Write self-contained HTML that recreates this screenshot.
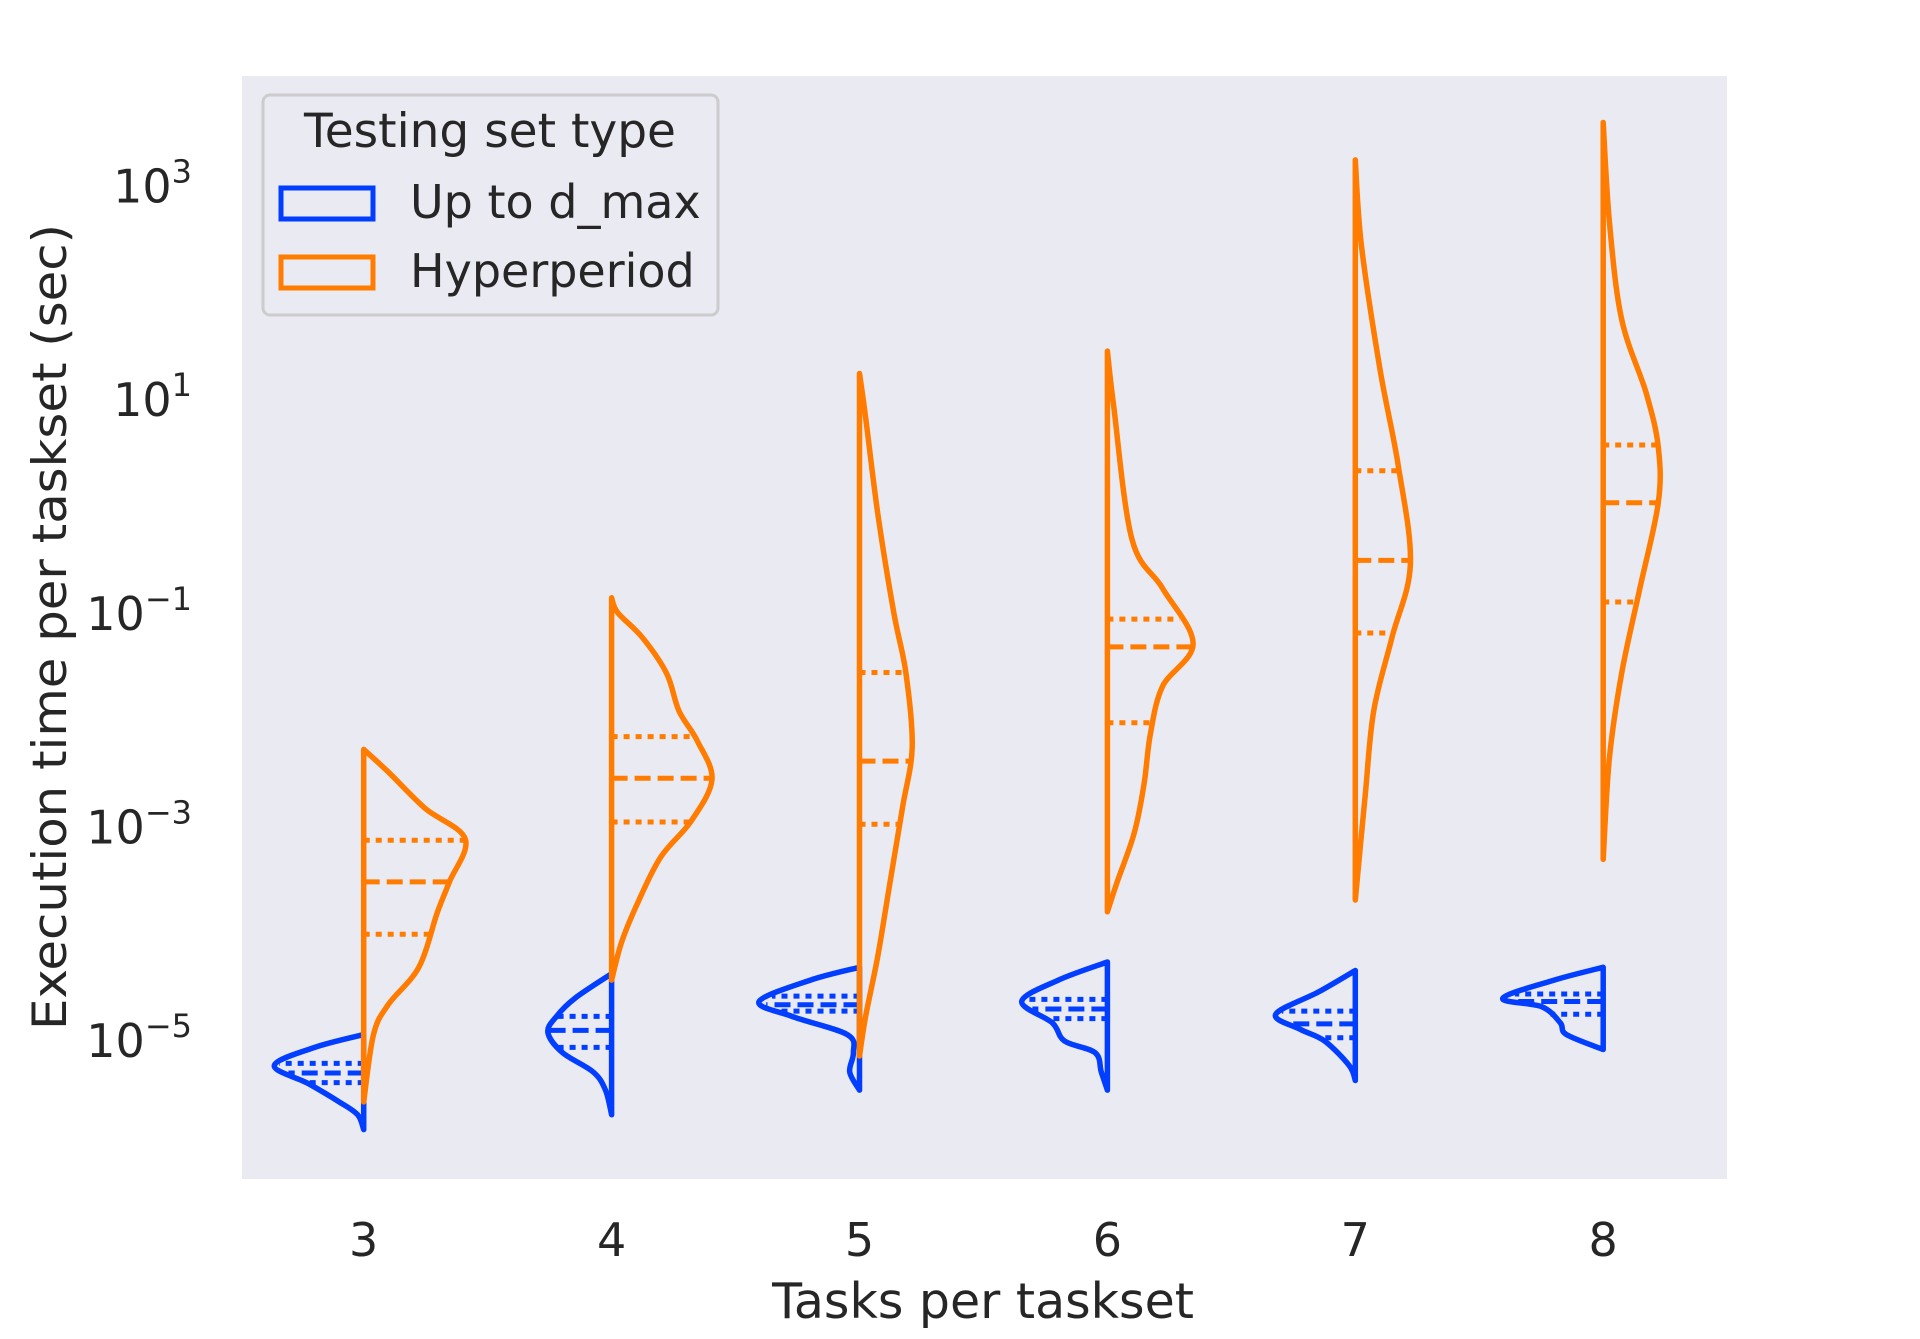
<!DOCTYPE html>
<html><head><meta charset="utf-8"><style>
html,body{margin:0;padding:0;background:#fff;}
svg{display:block;font-family:"DejaVu Sans","Liberation Sans",sans-serif;}
</style></head><body>
<svg id="chart" width="1920" height="1339" viewBox="0 0 1920 1339" xmlns="http://www.w3.org/2000/svg">
<rect x="242" y="76" width="1485" height="1103" fill="#eaeaf2"/>
<g id="violins"></g>
<g id="yticks"></g>
<g id="xticks"></g>
<text x="983" y="1318" font-size="49" text-anchor="middle" fill="#262626">Tasks per taskset</text>
<text transform="translate(66,627) rotate(-90)" font-size="47" text-anchor="middle" fill="#262626" textLength="806" lengthAdjust="spacingAndGlyphs">Execution time per taskset (sec)</text>
<g>
<rect x="263" y="95" width="455" height="220" rx="7" fill="#eaeaf2" stroke="#cccccc" stroke-width="3"/>
<text x="490" y="147" font-size="47" text-anchor="middle" fill="#262626">Testing set type</text>
<g>
<rect x="281" y="188" width="92" height="31" fill="none" stroke="#023eff" stroke-width="5"/>
<text x="410" y="218" font-size="46" fill="#262626">Up to d_max</text>
</g>
<g>
<rect x="281" y="257" width="92" height="31" fill="none" stroke="#ff7c00" stroke-width="5"/>
<text x="410" y="287" font-size="46" fill="#262626">Hyperperiod</text>
</g>
</g>
</svg>
<script>
const categories = ["3","4","5","6","7","8"];
const yTickExps = [-5,-3,-1,1,3];
// blue (Up to d_max) densities: [log10 value, relative density]
const blueLog = [
 [-4.94,-5.06,-5.23,-5.40,-5.57,-5.69,-5.83],
 [-4.37,-4.60,-4.77,-4.92,-5.11,-5.29,-5.46,-5.69],
 [-4.31,-4.43,-4.63,-4.77,-4.94,-5.11,-5.29,-5.46],
 [-4.26,-4.43,-4.63,-4.83,-5.00,-5.11,-5.29,-5.46],
 [-4.34,-4.54,-4.75,-4.89,-5.00,-5.23,-5.37],
 [-4.31,-4.43,-4.60,-4.68,-4.83,-4.94,-5.08]
];
const blueDens = [
 [0,0.40,0.73,0.45,0.20,0.05,0],
 [0,0.30,0.45,0.52,0.40,0.15,0.05,0],
 [0,0.40,0.82,0.55,0.10,0.05,0.08,0],
 [0,0.40,0.70,0.45,0.35,0.10,0.05,0],
 [0,0.30,0.65,0.45,0.25,0.05,0],
 [0,0.40,0.82,0.50,0.35,0.30,0]
];
const blueQuart = [[-5.21,-5.30,-5.39],[-4.77,-4.90,-5.06],[-4.58,-4.66,-4.72],[-4.61,-4.70,-4.79],[-4.72,-4.84,-4.97],[-4.56,-4.63,-4.75]];
const orangeLog = [
 [-2.27,-2.48,-2.82,-3.11,-3.51,-3.80,-4.31,-4.66,-4.94,-5.57],
 [-0.85,-0.99,-1.22,-1.56,-1.91,-2.19,-2.55,-2.94,-3.28,-3.74,-4.08,-4.43],
 [1.25,0.84,-0.07,-0.99,-1.56,-2.25,-2.82,-3.51,-4.20,-4.77,-5.14],
 [1.46,0.96,-0.30,-0.76,-1.28,-1.68,-2.13,-2.59,-3.05,-3.51,-3.79],
 [3.25,2.45,1.30,0.39,-0.53,-1.22,-1.91,-2.71,-3.68],
 [3.60,2.68,1.76,1.07,0.56,0.04,-0.76,-1.56,-2.36,-3.30]
];
const orangeDens = [
 [0,0.20,0.50,0.83,0.70,0.60,0.45,0.20,0.08,0],
 [0,0.05,0.25,0.45,0.55,0.70,0.82,0.65,0.40,0.20,0.08,0],
 [0,0.05,0.15,0.28,0.38,0.43,0.35,0.25,0.15,0.05,0],
 [0,0.05,0.20,0.45,0.70,0.45,0.35,0.30,0.22,0.08,0],
 [0,0.05,0.20,0.35,0.45,0.30,0.15,0.08,0],
 [0,0.05,0.15,0.35,0.45,0.45,0.30,0.15,0.05,0]
];
const orangeQuart = [[-3.12,-3.51,-4.00],[-2.15,-2.54,-2.95],[-1.55,-2.38,-2.97],[-1.05,-1.31,-2.02],[0.34,-0.50,-1.18],[0.58,0.04,-0.89]];

const NS="http://www.w3.org/2000/svg";
const catW=247.9, x0=363.7;
function xScale(i){return x0+i*catW;}
function yScale(l){return 1041-(l+5)*106.8;}
const halfPx = 0.494*catW;
function densAt(logs,dens,l){
  for(let k=0;k<logs.length-1;k++){
    const a=logs[k],b=logs[k+1];
    if((l<=a&&l>=b)||(l>=a&&l<=b)){const t=(l-a)/(b-a);return dens[k]+t*(dens[k+1]-dens[k]);}
  }
  return 0;
}
function smoothPath(pts){
  let d="M"+pts[0][0].toFixed(1)+","+pts[0][1].toFixed(1);
  for(let i=0;i<pts.length-1;i++){
    const p0=pts[Math.max(0,i-1)],p1=pts[i],p2=pts[i+1],p3=pts[Math.min(pts.length-1,i+2)];
    const c1=[p1[0]+(p2[0]-p0[0])/6,p1[1]+(p2[1]-p0[1])/6];
    const c2=[p2[0]-(p3[0]-p1[0])/6,p2[1]-(p3[1]-p1[1])/6];
    d+=" C"+c1[0].toFixed(1)+","+c1[1].toFixed(1)+" "+c2[0].toFixed(1)+","+c2[1].toFixed(1)+" "+p2[0].toFixed(1)+","+p2[1].toFixed(1);
  }
  return d;
}
const g=document.getElementById("violins");
function drawHalf(i,logs,dens,quart,side,color,nm){
  const cx=xScale(i);
  const pts=logs.map((l,k)=>[cx+side*dens[k]*halfPx,yScale(l)]);
  const d=smoothPath(pts)+" Z";
  const p=document.createElementNS(NS,"path");
  p.setAttribute("d",d);p.setAttribute("fill","none");p.setAttribute("stroke",color);
  p.setAttribute("stroke-width","5.5");p.setAttribute("stroke-linejoin","round");p.setAttribute("stroke-linecap","round");
  
  
  g.appendChild(p);
  quart.forEach((q,k)=>{
    const w=densAt(logs,dens,q)*halfPx;
    const ln=document.createElementNS(NS,"line");
    ln.setAttribute("x1",cx);ln.setAttribute("x2",cx+side*w);
    ln.setAttribute("y1",yScale(q));ln.setAttribute("y2",yScale(q));
    ln.setAttribute("stroke",color);ln.setAttribute("stroke-width","5");
    ln.setAttribute("stroke-dasharray",k===1?"16,7":"6,6");
    
    
    g.appendChild(ln);
  });
}
categories.forEach((c,i)=>{
  drawHalf(i,blueLog[i],blueDens[i],blueQuart[i],-1,"#023eff","up-to-d-max");
  drawHalf(i,orangeLog[i],orangeDens[i],orangeQuart[i],1,"#ff7c00","hyperperiod");
  const t=document.createElementNS(NS,"text");
  t.setAttribute("x",xScale(i));t.setAttribute("y",1256);t.setAttribute("font-size","46");
  t.setAttribute("text-anchor","middle");t.setAttribute("fill","#262626");t.textContent=c;
  
  
  document.getElementById("xticks").appendChild(t);
});
yTickExps.forEach(e=>{
  const t=document.createElementNS(NS,"text");
  t.setAttribute("x",192);t.setAttribute("y",yScale(e)+16);t.setAttribute("font-size","46");
  t.setAttribute("text-anchor","end");t.setAttribute("fill","#262626");
  const a=document.createElementNS(NS,"tspan");a.textContent="10";
  const b=document.createElementNS(NS,"tspan");b.setAttribute("font-size","32");b.setAttribute("dy","-20");
  b.textContent=(e<0?"\u2212":"")+Math.abs(e);
  t.appendChild(a);t.appendChild(b);
  
  
  document.getElementById("yticks").appendChild(t);
});
</script>
</body></html>
